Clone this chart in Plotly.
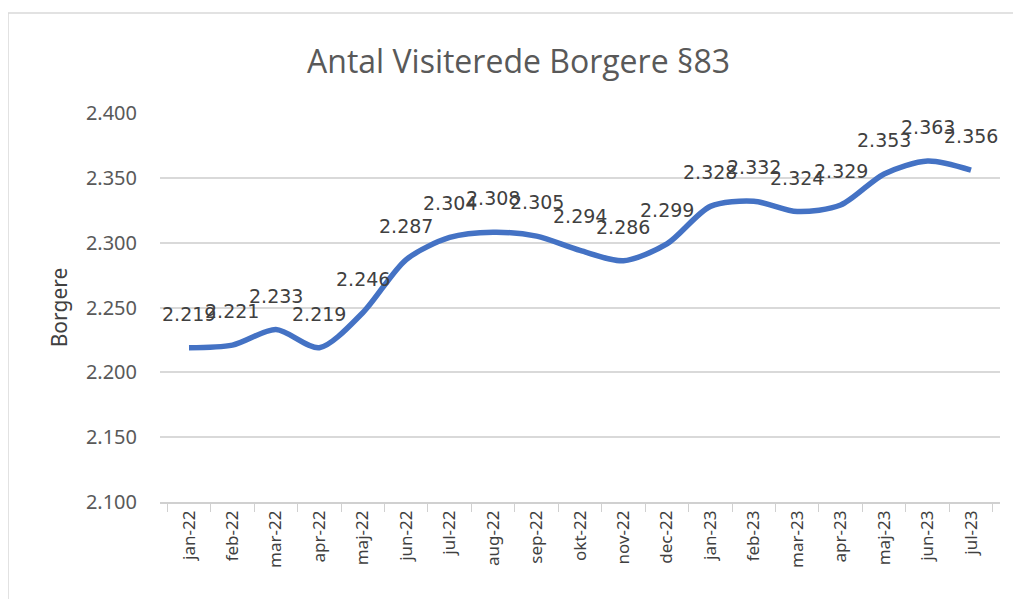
import plotly.graph_objects as go

months = ["jan-22", "feb-22", "mar-22", "apr-22", "maj-22", "jun-22", "jul-22", "aug-22",
          "sep-22", "okt-22", "nov-22", "dec-22", "jan-23", "feb-23", "mar-23", "apr-23",
          "maj-23", "jun-23", "jul-23"]
borgere = [2219, 2221, 2233, 2219, 2246, 2287, 2304, 2308, 2305, 2294, 2286, 2299,
           2328, 2332, 2324, 2329, 2353, 2363, 2356]
y_ticks = [2100, 2150, 2200, 2250, 2300, 2350, 2400]

def fmt(v):
    return f"{v:,}".replace(",", ".")

FONT = "Noto Sans"
L, R, T, B = 152, 29, 105, 105
PW = 1021 - L - R
PH = 599 - T - B

fig = go.Figure()
fig.add_trace(go.Scatter(
    x=months, y=borgere, mode="lines",
    line=dict(color="#4472C4", width=5.5, shape="spline", smoothing=0.8),
    hoverinfo="skip", showlegend=False,
))
for m, v in zip(months, borgere):
    fig.add_annotation(x=m, y=v, text=fmt(v), showarrow=False, yshift=34,
                       font=dict(family="DejaVu Sans", size=19, color="#404040"))

fig.update_layout(
    width=1021, height=599,
    paper_bgcolor="white", plot_bgcolor="white",
    margin=dict(l=L, r=R, t=T, b=B),
    title=dict(text="Antal Visiterede Borgere §83", x=0.5, xanchor="center",
               y=1 - 54 / 599, yanchor="middle",
               font=dict(family="Open Sans", size=32, color="#595959")),
    xaxis=dict(
        type="category", tickson="boundaries", ticks="outside", ticklen=8,
        tickcolor="#D0D0D0", showline=True, linecolor="#D0D0D0", linewidth=1.5,
        showgrid=False, tickangle=-90,
        tickfont=dict(family=FONT, size=17, color="#404040"),
    ),
    yaxis=dict(
        range=[2100, 2400], tickvals=y_ticks, ticktext=[fmt(t) for t in y_ticks],
        showgrid=True, gridcolor="#D9D9D9", gridwidth=1.5, zeroline=False,
        showline=False, ticks="", ticklabelstandoff=22,
        tickfont=dict(family=FONT, size=20, color="#595959"),
        title=dict(text="Borgere", font=dict(family=FONT, size=21, color="#404040"), standoff=12),
    ),
    shapes=[dict(type="line", xref="paper", yref="paper",
                 x0=-L / PW, x1=1 + R / PW, y0=1 + (T - 5) / PH, y1=1 + (T - 5) / PH,
                 line=dict(color="#D8D8D8", width=1.5)),
            dict(type="line", xref="paper", yref="paper",
                 x0=-L / PW, x1=-L / PW, y0=-B / PH, y1=1 + (T - 5) / PH,
                 line=dict(color="#D8D8D8", width=1.5))],
)
fig.write_html("out.html")
